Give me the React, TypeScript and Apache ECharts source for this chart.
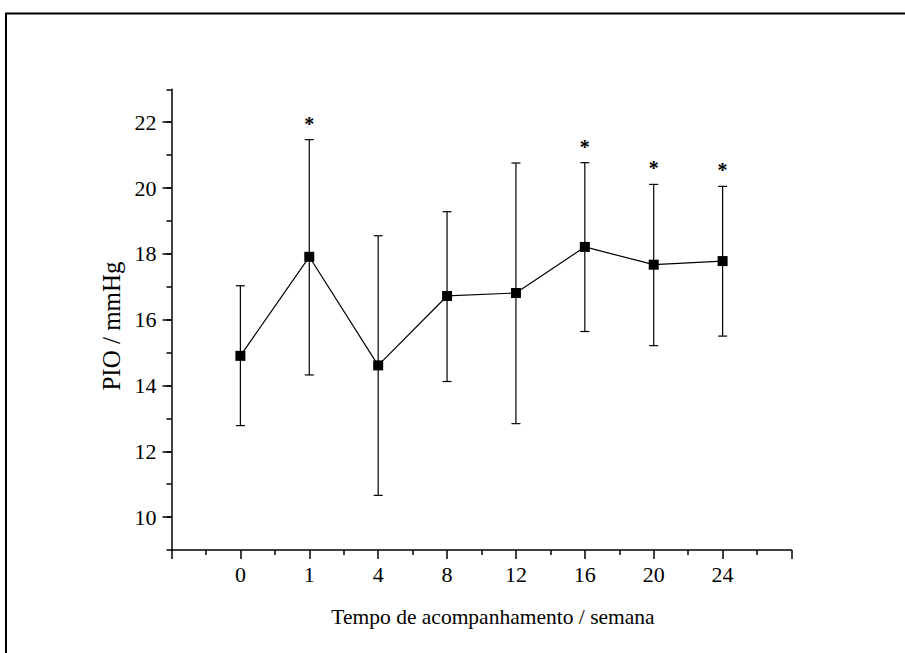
import React, { useEffect, useRef } from "react";
import * as echarts from "echarts";

const categories = ["0", "1", "4", "8", "12", "16", "20", "24"];
const means = [14.9, 17.91, 14.61, 16.72, 16.81, 18.21, 17.67, 17.78];
const upper = [17.03, 21.47, 18.55, 19.28, 20.76, 20.77, 20.11, 20.05];
const lower = [12.78, 14.32, 10.66, 14.12, 12.84, 15.64, 15.21, 15.5];
const significant = [false, true, false, false, false, true, true, true];
const yMajorTicks = [10, 12, 14, 16, 18, 20, 22];

const FONT = "'Liberation Serif', 'Times New Roman', serif";

export default function App() {
  const ref = useRef<HTMLDivElement>(null);
  useEffect(() => {
    if (!ref.current) return;
    const chart = echarts.init(ref.current, undefined, { renderer: "svg" });
    const lineData = means.map((m, i) => [i, m]);
    const errData = means.map((m, i) => [i, lower[i], upper[i], significant[i] ? 1 : 0]);
    chart.setOption({
      animation: false,
      backgroundColor: "#ffffff",
      grid: { left: 171.5, right: 113.5, top: 89.3, bottom: 103, containLabel: false },
      xAxis: {
        type: "value",
        min: -1,
        max: 8,
        interval: 1,
        axisLine: { show: true, onZero: false, lineStyle: { color: "#000", width: 1.5 } },
        axisTick: { show: true, length: 9, lineStyle: { color: "#000", width: 1.5 } },
        minorTick: { show: true, splitNumber: 2, length: 5, lineStyle: { color: "#000", width: 1.5 } },
        splitLine: { show: false },
        minorSplitLine: { show: false },
        axisLabel: {
          color: "#000",
          fontFamily: FONT,
          fontSize: 22,
          margin: 13,
          formatter: (v: number) => (categories[v] !== undefined ? categories[v] : ""),
        },
      },
      yAxis: [
        {
          type: "value",
          position: "left",
          min: 9,
          max: 23,
          interval: 1,
          axisLine: { show: true, onZero: false, lineStyle: { color: "#000", width: 1.5 } },
          axisTick: { show: true, length: 5, lineStyle: { color: "#000", width: 1.5 } },
          splitLine: { show: false },
          axisLabel: {
            color: "#000",
            fontFamily: FONT,
            fontSize: 22,
            margin: 15,
            formatter: (v: number) => (yMajorTicks.indexOf(v) >= 0 ? String(v) : ""),
          },
        },
        {
          type: "value",
          position: "left",
          min: 9,
          max: 23,
          interval: 1,
          axisLine: { show: false, onZero: false },
          axisTick: {
            show: true,
            length: 9,
            customValues: yMajorTicks,
            lineStyle: { color: "#000", width: 1.5 },
          },
          axisLabel: { show: false },
          splitLine: { show: false },
        },
      ],
      graphic: [
        {
          type: "rect",
          shape: { x: 6, y: 13.5, width: 960, height: 700 },
          style: { fill: "none", stroke: "#000", lineWidth: 2 },
          silent: true,
        },
        {
          type: "text",
          x: 493,
          y: 617,
          style: {
            text: "Tempo de acompanhamento / semana",
            fontFamily: FONT,
            fontSize: 21.5,
            fill: "#000",
            align: "center",
            verticalAlign: "middle",
          },
        },
        {
          type: "text",
          x: 111,
          y: 326,
          rotation: Math.PI / 2,
          style: {
            text: "PIO / mmHg",
            fontFamily: FONT,
            fontSize: 25,
            fill: "#000",
            align: "center",
            verticalAlign: "middle",
          },
        },
      ],
      series: [
        {
          type: "custom",
          xAxisIndex: 0,
          yAxisIndex: 0,
          clip: false,
          z: 1,
          data: errData,
          renderItem: (params: any, api: any) => {
            const i = api.value(0);
            const lo = api.coord([i, api.value(1)]);
            const hi = api.coord([i, api.value(2)]);
            const sig = api.value(3);
            const cap = 4.5;
            const st = { stroke: "#000", lineWidth: 1.2 };
            const children: any[] = [
              { type: "line", shape: { x1: hi[0], y1: hi[1], x2: lo[0], y2: lo[1] }, style: st },
              { type: "line", shape: { x1: hi[0] - cap, y1: hi[1], x2: hi[0] + cap, y2: hi[1] }, style: st },
              { type: "line", shape: { x1: lo[0] - cap, y1: lo[1], x2: lo[0] + cap, y2: lo[1] }, style: st },
            ];
            if (sig) {
              children.push({
                type: "text",
                x: hi[0],
                y: hi[1] - 16,
                style: {
                  text: "*",
                  fontFamily: FONT,
                  fontSize: 20,
                  fontWeight: "bold",
                  fill: "#000",
                  align: "center",
                  verticalAlign: "middle",
                },
              });
            }
            return { type: "group", children };
          },
        },
        {
          type: "line",
          xAxisIndex: 0,
          yAxisIndex: 0,
          z: 3,
          data: lineData,
          symbol: "rect",
          symbolSize: 10,
          itemStyle: { color: "#000" },
          lineStyle: { color: "#000", width: 1.2 },
        },
      ],
    });
    return () => chart.dispose();
  }, []);
  return (
    <div
      ref={ref}
      style={{ position: "fixed", left: 0, top: 0, width: 905, height: 653, background: "#fff" }}
    />
  );
}
